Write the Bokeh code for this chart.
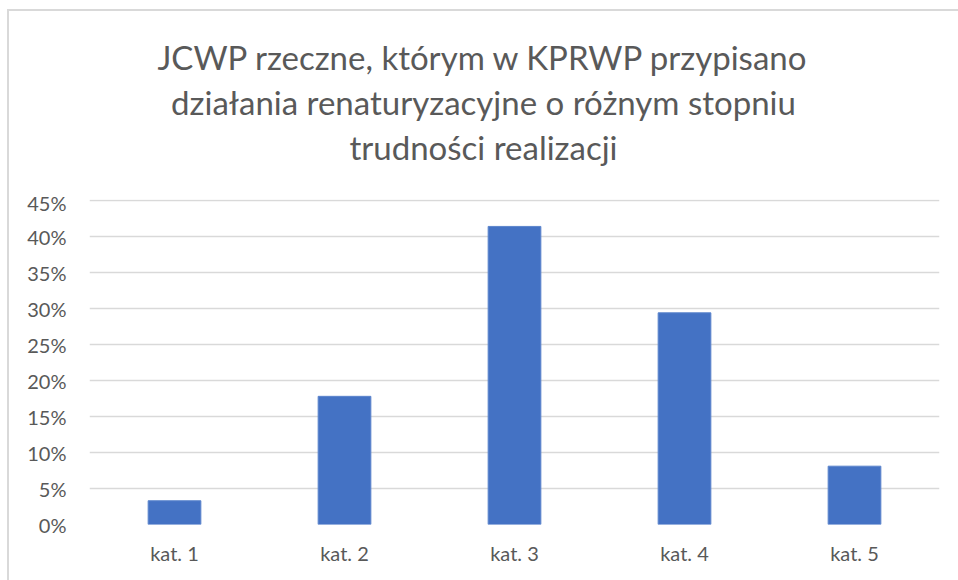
from bokeh.plotting import figure
from bokeh.layouts import column
from bokeh.models import FixedTicker, NumeralTickFormatter
from bokeh.core.properties import value
from bokeh.embed import file_html
from bokeh.resources import INLINE

categories = ["kat. 1", "kat. 2", "kat. 3", "kat. 4", "kat. 5"]
shares = [0.033, 0.178, 0.414, 0.294, 0.081]
y_ticks = [0.0, 0.05, 0.10, 0.15, 0.20, 0.25, 0.30, 0.35, 0.40, 0.45]
title_lines = [
    "JCWP rzeczne, którym w KPRWP przypisano",
    "działania renaturyzacyjne o różnym stopniu",
    "trudności realizacji",
]

FONT = "Lato"
TXT = "#595959"
BORDER = "#d9d9d9"
FR_L, FR_R = 89, 939   # frame edges shared by both panels (aligned by column)

# ---- title panel ----
TH = 190
t = figure(width=958, height=TH, x_range=(FR_L, FR_R), y_range=(0, TH),
           output_backend="svg", toolbar_location=None,
           x_axis_location=None, y_axis_location=None,
           min_border_left=FR_L, min_border_right=958 - FR_R,
           min_border_top=0, min_border_bottom=0)
t.grid.visible = False
t.outline_line_color = None
t.background_fill_color = None
t.border_fill_color = None
t.styles = {"background": f"linear-gradient({BORDER},{BORDER}) 7px 9px / 2px 100% no-repeat, "
                          f"linear-gradient({BORDER},{BORDER}) 7px 9px / 100% 2px no-repeat"}
t.text(x=[483, 483, 483], y=[TH - 56, TH - 101, TH - 146], text=title_lines,
       text_align="center", text_baseline="alphabetic",
       text_font=value(FONT), text_font_size="33px", text_color=TXT)

# ---- chart panel ----
p = figure(x_range=categories, y_range=(0, 0.4514), width=958, height=580 - TH,
           output_backend="svg", toolbar_location=None,
           min_border_left=FR_L, min_border_right=958 - FR_R, min_border_top=9,
           min_border_bottom=56)
p.outline_line_color = None
p.background_fill_color = None
p.border_fill_color = None
p.styles = {"background": f"linear-gradient({BORDER},{BORDER}) 7px 0 / 2px 100% no-repeat"}

p.vbar(x=categories, top=shares, width=0.31, fill_color="#4472C4",
       line_color="#5b84cc", line_width=1)

p.xgrid.grid_line_color = None
p.ygrid.grid_line_color = BORDER
p.ygrid.grid_line_width = 1.5
p.yaxis.ticker = FixedTicker(ticks=y_ticks)
p.yaxis.formatter = NumeralTickFormatter(format="0%")

for ax in (p.xaxis, p.yaxis):
    ax.axis_line_color = None
    ax.major_tick_line_color = None
    ax.minor_tick_line_color = None
    ax.major_tick_out = 0
    ax.major_tick_in = 0
    ax.minor_tick_out = 0
    ax.major_label_text_font = FONT
    ax.major_label_text_font_size = "20px"
    ax.major_label_text_color = TXT
p.yaxis.major_label_standoff = 23
p.xaxis.major_label_standoff = 16

layout = column(t, p, spacing=0)
open("out.html", "w").write(file_html(layout, INLINE))
